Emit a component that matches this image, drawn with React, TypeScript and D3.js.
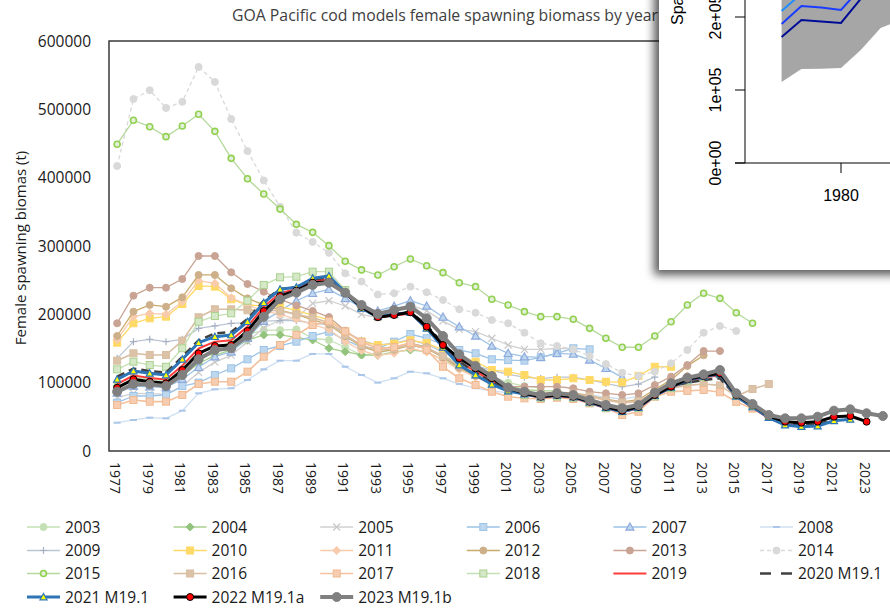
import React from 'react';
import * as d3 from 'd3';

// ---------- DATA ----------
const YEARS = [1977,1978,1979,1980,1981,1982,1983,1984,1985,1986,1987,1988,1989,1990,1991,1992,1993,1994,1995,1996,1997,1998,1999,2000,2001,2002,2003,2004,2005,2006,2007,2008,2009,2010,2011,2012,2013,2014,2015,2016,2017,2018,2019,2020,2021,2022,2023,2024];
const TICK_YEARS = [1977,1979,1981,1983,1985,1987,1989,1991,1993,1995,1997,1999,2001,2003,2005,2007,2009,2011,2013,2015,2017,2019,2021,2023];
const Y_TICKS = [0,100000,200000,300000,400000,500000,600000];

// each series starts in 1977
const s2003 = [100000,108000,105000,102000,115000,135000,150000,160000,170000,177000,177000,178000,165000,162400,151800,140500,143000,150000,155000,150000,140000,128000,118000,108000,100000,95000,92000];
const s2004 = [95000,103000,100000,98000,110000,128000,140000,148000,162000,169800,170000,166400,162400,150300,145300,140500,140000,145000,147800,145300,133200,121000,111200,102000,95000,90000,88000,88000];
const s2005 = [78000,84400,84000,83000,95000,115000,130000,140000,160000,180000,191700,194200,216100,219900,212200,200000,195000,205000,213700,205000,190000,178000,174600,165000,155100,148800,148800,150000,150000];
const s2006 = [70700,80500,80500,82000,95000,100000,111200,121000,134200,147800,153700,160000,168300,174600,162400,152000,150000,160000,171200,165000,156000,147800,143000,134200,133000,132200,137100,143000,150300,148800];
const s2007 = [85000,95000,94000,93000,105000,122500,138000,145000,165000,190000,205000,219900,230800,236600,223400,210000,205000,212000,220000,212200,196000,181900,168300,153700,143000,138000,137100,143000,141900,133200,121000,107800];
const s2008 = [41400,45400,48800,47800,59000,84400,90300,91800,103900,119500,132200,132200,142000,142000,123300,111200,100000,106400,116100,113700,106400,98000,92000,88000,85000,83000,82000,84000,84000,82000,79000,76000,80000];
const s2009 = [135600,160000,163500,160000,163500,179500,183000,186900,188000,190000,190700,190700,186900,185000,174600,162000,155000,158000,163000,156000,145000,133000,125000,118000,112000,108000,106000,108000,108000,104000,99000,94000,98000,108000];
const s2010 = [158500,186900,194200,196600,215100,241500,240500,222000,213700,212200,211200,205300,199000,192000,175000,160000,155000,157000,162000,158000,148000,138000,130700,118500,116100,111200,103900,103900,106400,103900,101400,100500,110000,123300,123300];
const s2011 = [163000,196600,201500,200000,218500,249200,245400,224400,213700,205000,200000,193000,185000,178000,160000,147000,140000,143000,150000,145000,133000,119000,108000,98000,90000,85000,82000,84000,83000,79000,74000,70000,72000,86000,98000,110000];
const s2012 = [168300,203900,213700,211200,224900,257600,257600,238100,223400,213700,206300,200000,192000,185000,168000,153000,145000,148000,155000,150000,137000,122000,110000,99000,91000,86000,84000,86000,85000,81000,76000,72000,75000,90000,104000,124400,140000];
const s2013 = [186900,227300,239000,239000,251700,285400,285400,261500,244400,233100,222000,213000,205000,196000,176000,160000,150000,152000,158000,152000,138000,123000,112000,100000,94100,94100,94100,94100,91800,86800,84400,82000,84400,96600,108800,125800,146300,146300];
const s2014 = [417000,515000,528000,502000,511000,562000,540000,486000,439000,396000,357500,319500,306000,290000,260000,248000,229000,230800,240500,232300,221000,207400,202400,191700,186900,173100,157600,153700,148800,139000,127300,114600,109800,116100,128300,147800,173100,182900,175600];
const s2015 = [449000,484000,474600,460000,475600,492700,467800,428300,398500,376000,354000,331700,320000,300500,277600,265000,257500,269700,281000,271000,261000,246300,240500,222000,213600,203900,196600,196600,192700,179500,164900,151800,151800,168300,189200,213700,230800,223400,202400,186900];
const s2016 = [132200,143000,140500,140500,161400,195700,207400,207400,206000,206300,205000,200000,195000,188000,170000,155000,147000,150000,156000,151000,139000,125000,112000,100000,92000,86000,83000,85000,84000,80000,75000,71000,73000,86000,92000,96000,98000,96000,80000,90700,98000];
const s2017 = [67300,74600,72200,72200,82000,98000,101400,101400,116100,138000,155100,170000,184400,190000,175000,160000,150000,152000,158000,148000,123300,106400,96600,86800,79500,77100,76000,78000,76000,69700,62500,52700,57500,79500,86800,88000,89300,86000,72000,62000,50000,42000];
const s2018 = [119500,130700,125800,123300,150300,189200,197500,201500,220000,243000,254200,255100,262400,262400,235600,212000,197000,200000,205000,183000,155000,130000,114000,100000,88000,82000,78000,80000,78000,71000,63000,58000,63000,80000,92000,103000,108000,112000,81000,66000,50000,41000,39000];
const s2019 = [98000,110500,107000,104500,125000,150000,160000,162000,182000,211000,231000,237000,249000,251500,231000,210000,195000,198500,201000,180000,152500,130000,117000,102000,89500,82500,78000,80500,78000,70500,62500,57000,62000,80500,92000,102500,107500,111000,79500,63500,47500,39000,36500,37000];
const s2020 = [109000,120500,117000,114500,138000,162000,172000,174000,193000,220000,237000,240000,251000,254000,233000,209000,196000,200000,204000,184000,157000,131000,115000,101000,90000,84000,80000,82500,80000,72500,65000,60000,66000,84000,95000,100000,103900,106400,80000,66000,50000,41000,38500,39000,46000];
const s2021 = [104900,117100,113700,111200,134200,158500,167300,169800,189200,217000,236600,239500,252700,256100,232000,208800,196600,200500,202400,179500,151800,125800,111200,97600,87800,83400,79000,81500,79000,71500,63500,57500,63500,81000,93000,104000,109000,112500,80000,64500,49000,38000,35600,36600,44300,46400];
const s2022 = [92600,104900,101400,99000,118500,143000,153700,155100,175600,204900,226800,234600,246300,247700,230800,211200,195700,199000,203000,182000,155100,135600,121000,106400,91800,84400,79500,82000,79500,72200,64800,59000,64800,82000,94100,104900,109800,113700,82000,67300,51200,42900,41400,42900,50200,51200,42900];
const s2023 = [86800,98000,97500,95100,111200,134200,147800,150300,168300,196600,222000,231700,243000,246300,231700,213700,200500,206300,211200,194200,168300,141500,124400,109800,92600,86800,82000,84400,82000,74600,67300,62500,67300,85300,99100,107300,112200,118500,84400,68800,52700,47800,47800,50200,59000,61000,55200,51200];

// inset (screenshot of another model plot)
const INSET_YEARS = [1977,1978,1979,1980,1981,1982,1983];
const INSET_Y_TICKS = [0,100000,200000];
const INSET_X_TICKS = [1980];
const insetLower = [111000,128800,129000,130100,154800,185000,196000];
const insetUpper = [330000,330000,330000,330000,330000,330000,330000];
const insetNavy = [172600,195900,194000,191800,225000,262000,290000];
const insetBlue = [190400,215000,213000,209600,240000,275000,300000];
const insetSky = [208200,232000,230000,227000,255000,290000,310000];
const insetGreen = [224000,248000,246000,243000,270000,300000,320000];

// ---------- STYLES ----------
type Marker = 'circle'|'ocircle'|'diamond'|'x'|'square'|'triangle'|'dash'|'plus'|'none';
interface S { name: string; data: number[]; color: string; width: number; marker: Marker; mfill: string; mstroke: string; msize: number; dash?: string; }

const SERIES: S[] = [
  { name: '2003', data: s2003, color: '#c5e0b4', width: 1.3, marker: 'circle', mfill: '#c5e0b4', mstroke: '#c5e0b4', msize: 7 },
  { name: '2004', data: s2004, color: '#a9d18e', width: 1.3, marker: 'diamond', mfill: '#93c47d', mstroke: '#93c47d', msize: 8 },
  { name: '2005', data: s2005, color: '#d0d0d0', width: 1.3, marker: 'x', mfill: 'none', mstroke: '#c8c8c8', msize: 7 },
  { name: '2006', data: s2006, color: '#9dc3e6', width: 1.3, marker: 'square', mfill: '#bdd7ee', mstroke: '#9dc3e6', msize: 7 },
  { name: '2007', data: s2007, color: '#9dc3e6', width: 1.3, marker: 'triangle', mfill: '#bdd7ee', mstroke: '#8faadc', msize: 8 },
  { name: '2008', data: s2008, color: '#cfdff2', width: 1.3, marker: 'dash', mfill: 'none', mstroke: '#aac6e8', msize: 7 },
  { name: '2009', data: s2009, color: '#bcc5d3', width: 1.3, marker: 'plus', mfill: 'none', mstroke: '#a6b2c4', msize: 7 },
  { name: '2010', data: s2010, color: '#ffd966', width: 1.3, marker: 'square', mfill: '#ffd966', mstroke: '#ffd966', msize: 7 },
  { name: '2011', data: s2011, color: '#f8cbad', width: 1.3, marker: 'diamond', mfill: '#f8cbad', mstroke: '#f8cbad', msize: 8 },
  { name: '2012', data: s2012, color: '#c9aa6a', width: 1.3, marker: 'circle', mfill: '#cdb08a', mstroke: '#cdb08a', msize: 7 },
  { name: '2013', data: s2013, color: '#c9a393', width: 1.3, marker: 'circle', mfill: '#c9a393', mstroke: '#c9a393', msize: 7 },
  { name: '2014', data: s2014, color: '#d9d9d9', width: 1.3, marker: 'circle', mfill: '#d9d9d9', mstroke: '#d9d9d9', msize: 7, dash: '4,3' },
  { name: '2015', data: s2015, color: '#b5d99c', width: 1.3, marker: 'ocircle', mfill: '#e2f0d9', mstroke: '#92d050', msize: 7 },
  { name: '2016', data: s2016, color: '#d8bea2', width: 1.6, marker: 'square', mfill: '#dcc2a6', mstroke: '#d8bea2', msize: 7 },
  { name: '2017', data: s2017, color: '#f4c19e', width: 1.6, marker: 'square', mfill: '#f6cdb0', mstroke: '#f1b88f', msize: 7 },
  { name: '2018', data: s2018, color: '#c5e0b4', width: 1.3, marker: 'square', mfill: '#d5e8c8', mstroke: '#a9d18e', msize: 7 },
  { name: '2019', data: s2019, color: '#ff3b3b', width: 2, marker: 'none', mfill: 'none', mstroke: 'none', msize: 0 },
  { name: '2020 M19.1', data: s2020, color: '#404040', width: 2.5, marker: 'none', mfill: 'none', mstroke: 'none', msize: 0, dash: '8,5' },
  { name: '2021 M19.1', data: s2021, color: '#2e75b6', width: 3, marker: 'triangle', mfill: '#ffff00', mstroke: '#2e75b6', msize: 7 },
  { name: '2022 M19.1a', data: s2022, color: '#000000', width: 3, marker: 'circle', mfill: '#ff0000', mstroke: '#000000', msize: 7 },
  { name: '2023 M19.1b', data: s2023, color: '#808080', width: 4, marker: 'circle', mfill: '#808080', mstroke: '#808080', msize: 9 },
];

const W = 890, H = 609;
const PL = 109, PT = 41, PB = 451, PR = 891;
const FONT = "'Open Sans', 'DejaVu Sans', sans-serif";

function MarkerShape({ x, y, s }: { x: number; y: number; s: S }) {
  const r = s.msize / 2;
  switch (s.marker) {
    case 'circle':
      return <circle cx={x} cy={y} r={r} fill={s.mfill} stroke={s.mstroke} strokeWidth={1} />;
    case 'ocircle':
      return <circle cx={x} cy={y} r={r - 0.5} fill={s.mfill} stroke={s.mstroke} strokeWidth={1.6} />;
    case 'square':
      return <rect x={x - r} y={y - r} width={2 * r} height={2 * r} fill={s.mfill} stroke={s.mstroke} strokeWidth={1} />;
    case 'diamond':
      return <path d={`M${x},${y - r}L${x + r},${y}L${x},${y + r}L${x - r},${y}Z`} fill={s.mfill} stroke={s.mstroke} strokeWidth={1} />;
    case 'triangle':
      return <path d={`M${x},${y - r}L${x + r},${y + r * 0.8}L${x - r},${y + r * 0.8}Z`} fill={s.mfill} stroke={s.mstroke} strokeWidth={1.2} />;
    case 'x':
      return <path d={`M${x - r},${y - r}L${x + r},${y + r}M${x - r},${y + r}L${x + r},${y - r}`} stroke={s.mstroke} strokeWidth={1.2} fill="none" />;
    case 'plus':
      return <path d={`M${x - r},${y}L${x + r},${y}M${x},${y - r}L${x},${y + r}`} stroke={s.mstroke} strokeWidth={1.2} fill="none" />;
    case 'dash':
      return <path d={`M${x - r},${y}L${x + r},${y}`} stroke={s.mstroke} strokeWidth={2} fill="none" />;
    default:
      return null;
  }
}

function Inset() {
  const ix = d3.scaleLinear().domain([1980, 1981]).range([841, 860.8]);
  const iy = d3.scaleLinear().domain([0, 100000]).range([163, 90]);
  const area = d3.area<number>().x((_, i) => ix(INSET_YEARS[i])).y0((d) => iy(d)).y1((_, i) => iy(insetUpper[i]));
  const line = d3.line<number>().x((_, i) => ix(INSET_YEARS[i])).y((d) => iy(d));
  const lf = "'Liberation Sans', Arial, sans-serif";
  return (
    <g>
      <defs>
        <filter id="shadow" x="-30%" y="-30%" width="160%" height="160%">
          <feDropShadow dx={-5} dy={5} stdDeviation={5} floodColor="#000" floodOpacity={0.65} />
        </filter>
        <clipPath id="insetClip"><rect x={659} y={0} width={240} height={270} /></clipPath>
      </defs>
      <rect x={659} y={-30} width={260} height={300} fill="#ffffff" filter="url(#shadow)" />
      <g clipPath="url(#insetClip)">
        <path d={area(insetLower) || ''} fill="#a6a6a6" stroke="none" />
        <path d={line(insetGreen) || ''} fill="none" stroke="#00e070" strokeWidth={2} />
        <path d={line(insetSky) || ''} fill="none" stroke="#1e8fff" strokeWidth={2} />
        <path d={line(insetBlue) || ''} fill="none" stroke="#1a3cff" strokeWidth={2} />
        <path d={line(insetNavy) || ''} fill="none" stroke="#000c96" strokeWidth={2} />
        <line x1={745} x2={745} y1={-10} y2={163} stroke="#000" strokeWidth={1} />
        <line x1={735} x2={900} y1={163} y2={163} stroke="#000" strokeWidth={1} />
        {INSET_Y_TICKS.map((t) => (
          <g key={t}>
            <line x1={735} x2={745} y1={iy(t)} y2={iy(t)} stroke="#000" strokeWidth={1} />
            <text transform={`translate(721,${iy(t)}) rotate(-90)`} textAnchor="middle" fontFamily={lf} fontSize={16} fill="#000">
              {t === 0 ? '0e+00' : `${t / 100000}e+05`}
            </text>
          </g>
        ))}
        {INSET_X_TICKS.map((t) => (
          <g key={t}>
            <line x1={ix(t)} x2={ix(t)} y1={163} y2={173} stroke="#000" strokeWidth={1} />
            <text x={ix(t)} y={201} textAnchor="middle" fontFamily={lf} fontSize={16} fill="#000">{t}</text>
          </g>
        ))}
        <text transform="translate(683,25) rotate(-90)" textAnchor="start" fontFamily={lf} fontSize={16} fill="#000">Spawning biomass (t)</text>
      </g>
    </g>
  );
}

export default function App() {
  const x = d3.scaleBand<number>().domain(YEARS).range([PL, PR]);
  const xc = (yr: number) => (x(yr) as number) + x.bandwidth() / 2;
  const y = d3.scaleLinear().domain([0, 600000]).range([PB, PT]);

  const lineGen = d3.line<number>()
    .defined((d) => d != null)
    .x((_, i) => xc(YEARS[i]))
    .y((d) => y(d));

  const legCols = [27, 173.6, 320.2, 466.8, 613.4, 760];
  const legRows = [527, 550.5, 573.5, 597];

  return (
    <svg width={W} height={H} style={{ position: 'absolute', left: 0, top: 0, background: '#fff' }} fontFamily={FONT}>
      <rect x={0} y={0} width={W} height={H} fill="#fff" />
      <text x={232} y={21} fontSize={15.8} fill="#404040">GOA Pacific cod models female spawning biomass by year</text>

      {/* axis labels */}
      {Y_TICKS.map((t) => (
        <text key={t} x={91} y={y(t) + 5.5} textAnchor="end" fontSize={15.5} fill="#1a1a1a">{t}</text>
      ))}
      {TICK_YEARS.map((t) => (
        <text key={t} transform={`translate(${xc(t)},462) rotate(90)`} dy={7} fontSize={14} fill="#1a1a1a">{t}</text>
      ))}
      <text transform="translate(26,248) rotate(-90)" textAnchor="middle" fontSize={15} fill="#1a1a1a">Female spawning biomas (t)</text>

      {/* series */}
      {SERIES.map((s) => (
        <g key={s.name}>
          <path d={lineGen(s.data) || ''} fill="none" stroke={s.color} strokeWidth={s.width} strokeDasharray={s.dash} strokeLinejoin="round" />
          {s.marker !== 'none' && s.data.map((v, i) => <MarkerShape key={i} x={xc(YEARS[i])} y={y(v)} s={s} />)}
        </g>
      ))}

      {/* plot frame */}
      <path d={`M${PR},${PT}H${PL}V${PB}H${PR}`} fill="none" stroke="#3a3a3a" strokeWidth={1.5} />

      {/* legend */}
      {SERIES.map((s, i) => {
        const cx0 = legCols[i % 6];
        const cy = legRows[Math.floor(i / 6)];
        return (
          <g key={s.name}>
            <line x1={cx0} x2={cx0 + 33} y1={cy} y2={cy} stroke={s.color} strokeWidth={s.width} strokeDasharray={s.dash === '8,5' ? '11,10' : s.dash} />
            {s.marker !== 'none' && <MarkerShape x={cx0 + 16.5} y={cy} s={s} />}
            <text x={cx0 + 38} y={cy + 5.5} fontSize={15.5} fill="#1a1a1a">{s.name}</text>
          </g>
        );
      })}

      <Inset />
    </svg>
  );
}
